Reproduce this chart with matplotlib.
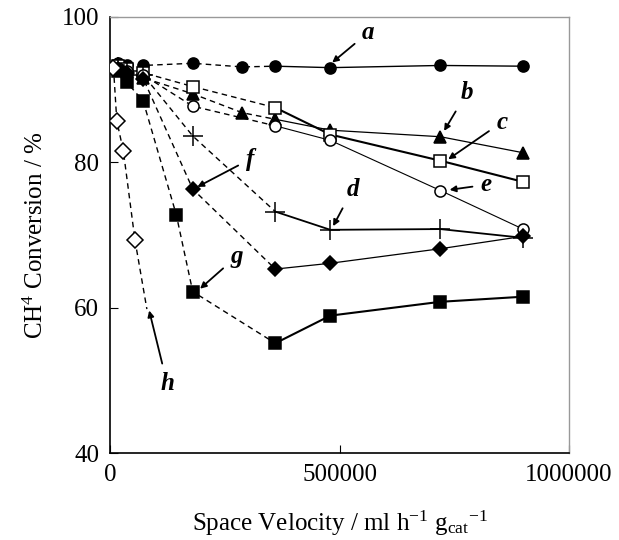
import numpy as np
import matplotlib.pyplot as plt

plt.rcParams['font.family'] = ['Liberation Serif', 'DejaVu Serif']
plt.rcParams['mathtext.fontset'] = 'custom'
plt.rcParams['mathtext.rm'] = 'Liberation Serif'
plt.rcParams['mathtext.it'] = 'Liberation Serif:italic'

# %% data
sv_a = [18000, 36000, 72000, 180000, 288000, 360000, 480000, 720000, 900000]
conv_a = [93.6, 93.4, 93.3, 93.6, 93.1, 93.2, 93.0, 93.3, 93.2]

sv_b = [18000, 36000, 72000, 180000, 288000, 360000, 480000, 720000, 900000]
conv_b = [93.0, 92.4, 91.6, 89.4, 86.8, 85.9, 84.4, 83.5, 81.3]

sv_c = [18000, 36000, 72000, 180000, 360000, 480000, 720000, 900000]
conv_c = [93.2, 92.8, 92.3, 90.4, 87.5, 83.8, 80.2, 77.3]

sv_d = [18000, 36000, 72000, 180000, 360000, 480000, 720000, 900000]
conv_d = [93.1, 92.6, 92.0, 83.6, 73.2, 70.7, 70.8, 69.6]

sv_e = [18000, 36000, 72000, 180000, 360000, 480000, 720000, 900000]
conv_e = [93.0, 92.5, 92.0, 87.7, 85.0, 83.0, 76.1, 70.8]

sv_f = [18000, 36000, 72000, 180000, 360000, 480000, 720000, 900000]
conv_f = [92.8, 92.3, 91.5, 76.3, 65.3, 66.1, 68.1, 69.8]

sv_g = [18000, 36000, 72000, 144000, 180000, 360000, 480000, 720000, 900000]
conv_g = [92.6, 91.0, 88.4, 72.8, 62.2, 55.1, 58.9, 60.8, 61.5]

sv_h = [7200, 14400, 28800, 54000]
conv_h = [93.0, 85.7, 81.5, 69.3]
# dashed trend of h continues below the last marker
sv_h_tail = [54000, 80000]
conv_h_tail = [69.3, 59.8]

# label letter, text position, arrow tip
labels = ['a', 'b', 'c', 'd', 'e', 'f', 'g', 'h']
label_xy = [(562000, 97.8), (778000, 89.6), (854000, 85.5), (529000, 76.3),
            (820000, 76.9), (305000, 80.4), (275000, 67.0), (124000, 49.6)]
tip_xy = [(484000, 93.7), (728000, 84.3), (737000, 80.4), (486000, 71.2),
          (740000, 76.2), (190000, 76.6), (196000, 62.6), (85000, 59.6)]

# %%
fig = plt.figure(figsize=(6.19, 5.40), dpi=100)
ax = fig.add_axes([0.178, 0.161, 0.741, 0.808])

def draw(x, y, k, marker, face, ms, lw):
    # dashed up to index k, solid after
    ax.plot(x[:k + 1], y[:k + 1], ls=(0, (4, 3)), color='k', lw=1.0, zorder=2)
    if k < len(x) - 1:
        ax.plot(x[k:], y[k:], ls='-', color='k', lw=lw, zorder=2)
    ax.plot(x, y, ls='none', marker=marker, ms=ms, mfc=face, mec='k',
            mew=1.1, zorder=3)

draw(sv_a, conv_a, 5, 'o', 'k', 8, 1.0)
draw(sv_b, conv_b, 5, '^', 'k', 9, 0.9)
draw(sv_c, conv_c, 4, 's', 'white', 8, 1.5)
draw(sv_d, conv_d, 4, '+', 'none', 14, 1.3)
draw(sv_e, conv_e, 4, 'o', 'white', 8, 0.8)
draw(sv_f, conv_f, 4, 'D', 'k', 7, 0.9)
draw(sv_g, conv_g, 5, 's', 'k', 8, 1.5)
draw(sv_h, conv_h, len(sv_h) - 1, 'D', 'white', 8, 1.0)
ax.plot(sv_h_tail, conv_h_tail, ls=(0, (4, 3)), color='k', lw=1.0, zorder=2)

for lab, txy, pxy in zip(labels, label_xy, tip_xy):
    ax.annotate(lab, xy=pxy, xytext=txy, fontsize=18, fontweight='bold',
                fontstyle='italic', ha='center', va='center',
                arrowprops=dict(arrowstyle='-|>', color='k', lw=1.3,
                                mutation_scale=9, shrinkA=4, shrinkB=0))

ax.set_xlim(0, 1000000)
ax.set_ylim(40, 100)
ax.set_xticks([0, 500000, 1000000])
ax.set_xticklabels(['0', '500000', '1000000'])
ax.set_yticks([40, 60, 80, 100])
ax.tick_params(direction='in', length=6, labelsize=18, pad=8)

for s in ['top', 'right']:
    ax.spines[s].set_color('#999999')
    ax.spines[s].set_linewidth(1.0)
for s in ['left', 'bottom']:
    ax.spines[s].set_linewidth(1.2)

ax.set_xlabel(r'Space Velocity / ml h$^{-1}$ g$_{\mathrm{cat}}$$^{-1}$',
              fontsize=18, labelpad=16)
ax.set_ylabel(r'CH$^{4}$ Conversion / %', fontsize=18, labelpad=10)

fig.savefig('out.png', dpi=100)
